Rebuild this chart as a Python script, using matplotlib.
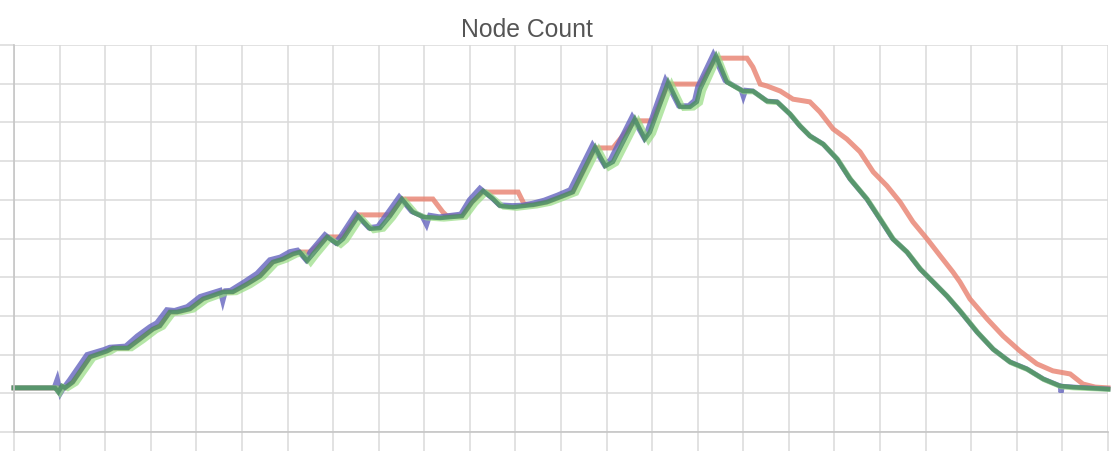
import matplotlib
matplotlib.use("Agg")
import matplotlib.pyplot as plt

title = "Node Count"

# x in grid units (24 intervals), y in grid units of 10 (0..100)
green_x = [0, 0.90, 0.97, 1.05, 1.12, 1.29, 1.67, 2.04, 2.17, 2.50, 2.76, 3.05, 3.20, 3.42, 3.58,
           3.86, 4.15, 4.59, 4.80, 5.11, 5.40, 5.68, 5.90, 6.12, 6.27, 6.43, 6.56, 6.87, 7.09, 7.22,
           7.55, 7.81, 8.03, 8.25, 8.51, 8.75, 8.97, 9.35, 9.83, 10.05, 10.29, 10.51, 10.66, 10.95, 11.17,
           11.39, 11.69, 11.98, 12.26, 12.75, 12.97, 13.14, 13.62, 13.84, 13.95, 14.35, 14.61, 14.83, 14.98, 15.05,
           15.40, 15.64, 15.99, 16.21, 16.52, 16.74, 17.02, 17.24, 17.46, 17.75, 18.06, 18.34, 18.71, 19.00, 19.28,
           19.59, 19.88, 20.16, 20.47, 20.75, 21.13, 21.48, 21.85, 22.22, 22.58, 22.95, 23.23, 24.0]
green_y = [11.4, 11.4, 10.3, 11.9, 11.4, 12.9, 19.4, 20.9, 21.7, 21.7, 24.0, 26.6, 27.4, 31.0, 31.0,
           31.8, 34.4, 36.2, 36.2, 38.2, 40.3, 43.9, 44.7, 46.0, 46.5, 44.2, 46.0, 50.4, 48.6, 49.9,
           55.8, 52.5, 52.7, 55.8, 60.2, 56.8, 55.6, 55.3, 55.8, 59.4, 62.3, 60.2, 58.4, 58.1, 58.4,
           58.7, 59.4, 60.7, 62.0, 73.6, 68.7, 69.8, 80.9, 75.7, 77.5, 90.4, 84.0, 84.0, 85.3, 88.6,
           97.2, 90.4, 88.1, 88.1, 85.5, 85.3, 82.2, 79.1, 76.5, 74.4, 70.5, 65.4, 60.2, 55.0, 49.9,
           46.5, 42.1, 38.8, 35.1, 31.3, 25.8, 21.4, 18.1, 16.3, 13.7, 11.9, 11.6, 11.1]

red_x = [0, 0.90, 1.12, 1.29, 1.67, 2.04, 2.17, 2.50, 2.76, 3.05, 3.20, 3.42, 3.58, 3.86, 4.15,
         4.59, 4.80, 5.11, 5.40, 5.68, 5.90, 6.12, 6.27, 6.49, 6.71, 6.87, 7.20, 7.55, 8.25, 8.51,
         9.19, 9.41, 9.50, 9.83, 10.05, 10.29, 11.06, 11.19, 11.39, 11.69, 11.98, 12.26, 12.75, 13.14, 13.62,
         14.00, 14.35, 15.05, 15.40, 16.08, 16.21, 16.37, 16.52, 16.81, 17.09, 17.46, 17.68, 17.97, 18.27, 18.56,
         18.85, 19.15, 19.44, 19.72, 20.03, 20.32, 20.60, 20.75, 20.97, 21.35, 21.70, 22.07, 22.44, 22.79, 23.17,
         23.45, 23.72, 24.0]
red_y = [11.4, 11.4, 11.4, 12.9, 19.4, 20.9, 21.7, 21.7, 24.0, 26.6, 27.4, 31.0, 31.0, 31.8, 34.4,
         36.2, 36.2, 38.2, 40.3, 43.9, 44.7, 46.0, 46.5, 46.5, 48.6, 50.4, 50.4, 56.1, 56.1, 60.2,
         60.2, 56.8, 55.8, 55.8, 59.4, 62.0, 62.0, 58.9, 58.7, 59.4, 60.7, 62.0, 73.4, 73.4, 80.4,
         80.4, 89.9, 89.9, 96.6, 96.6, 94.3, 89.9, 89.4, 88.1, 86.0, 85.3, 82.7, 78.3, 75.7, 72.4,
         67.2, 63.6, 59.4, 54.3, 49.9, 45.5, 41.3, 38.8, 34.4, 29.2, 24.8, 20.9, 17.6, 15.8, 15.0,
         12.4, 11.6, 11.4]

purple_x = [0, 0.88, 0.95, 1.02, 1.10, 1.22, 1.60, 1.97, 2.10, 2.45, 2.70, 2.98, 3.13, 3.35, 3.52,
            3.80, 4.08, 4.52, 4.58, 4.64, 4.75, 5.05, 5.33, 5.61, 5.84, 6.05, 6.22, 6.40, 6.50, 6.82,
            7.05, 7.16, 7.49, 7.78, 7.98, 8.19, 8.45, 8.72, 8.95, 9.05, 9.12, 9.33, 9.80, 9.99, 10.22,
            10.48, 10.64, 10.93, 11.15, 11.37, 11.63, 11.92, 12.20, 12.69, 12.95, 13.08, 13.56, 13.82, 13.90, 14.29,
            14.58, 14.80, 14.93, 15.00, 15.34, 15.60, 15.95, 16.0, 16.05, 16.21, 16.52, 16.74, 17.02, 17.24, 17.46,
            17.75, 18.06, 18.34, 18.71, 19.00, 19.28, 19.59, 19.88, 20.16, 20.47, 20.75, 21.13, 21.48, 21.85, 22.22,
            22.58, 22.95, 22.97, 23.0, 23.23, 24.0]
purple_y = [11.4, 11.4, 13.7, 10.0, 11.6, 13.5, 20.0, 21.3, 21.9, 22.2, 24.8, 27.2, 28.2, 31.6, 31.4,
            32.4, 35.0, 36.6, 33.8, 36.5, 36.6, 38.8, 41.0, 44.5, 45.2, 46.6, 47.0, 44.5, 46.6, 51.0,
            48.9, 50.5, 56.4, 52.8, 53.1, 56.5, 60.8, 57.0, 55.8, 53.5, 56.0, 55.6, 56.3, 60.0, 63.0,
            60.5, 58.7, 58.5, 58.6, 59.1, 59.9, 61.2, 62.6, 74.2, 69.0, 70.3, 81.5, 76.0, 78.0, 91.0,
            84.3, 84.3, 85.7, 89.2, 97.6, 90.8, 88.4, 86.6, 88.3, 88.1, 85.5, 85.3, 82.2, 79.1, 76.5,
            74.4, 70.5, 65.4, 60.2, 55.0, 49.9, 46.5, 42.1, 38.8, 35.1, 31.3, 25.8, 21.4, 18.1, 16.3,
            13.7, 11.9, 10.2, 11.8, 11.6, 11.1]

light_x = [0, 0.94, 1.01, 1.09, 1.18, 1.37, 1.75, 2.12, 2.25, 2.58, 2.84, 3.13, 3.28, 3.50, 3.66,
           3.94, 4.23, 4.67, 4.88, 5.19, 5.48, 5.76, 5.98, 6.20, 6.35, 6.51, 6.64, 6.95, 7.17, 7.30,
           7.63, 7.89, 8.11, 8.33, 8.59, 8.83, 9.05, 9.43, 9.91, 10.13, 10.37, 10.59, 10.74, 11.03, 11.25,
           11.47, 11.77, 12.06, 12.34, 12.83, 13.05, 13.22, 13.70, 13.92, 14.03, 14.43, 14.69, 14.91, 15.06, 15.13,
           15.46, 15.68, 16.01, 16.23, 16.54, 16.76, 17.04, 17.26, 17.48, 17.77, 18.08, 18.36, 18.73, 19.02, 19.30,
           19.61, 19.90, 20.18, 20.49, 20.77, 21.15, 21.50, 21.87, 22.24, 22.60, 22.97, 23.25, 24.0]
light_y = [11.4, 11.4, 10.0, 11.7, 11.2, 12.6, 19.0, 20.6, 21.5, 21.5, 23.6, 26.2, 27.1, 30.6, 30.8,
           31.5, 34.0, 35.9, 36.0, 37.8, 40.0, 43.5, 44.4, 45.7, 46.2, 43.6, 45.6, 50.0, 48.2, 49.5,
           55.4, 52.0, 52.4, 55.4, 59.8, 56.5, 55.3, 55.0, 55.5, 59.0, 61.9, 59.8, 58.1, 57.8, 58.1,
           58.4, 59.1, 60.4, 61.7, 73.2, 68.2, 69.4, 80.5, 75.2, 77.1, 90.0, 83.6, 83.7, 85.0, 88.2,
           96.8, 90.2, 87.9, 87.9, 85.3, 85.1, 82.0, 78.9, 76.3, 74.2, 70.3, 65.2, 60.0, 54.8, 49.7,
           46.3, 41.9, 38.6, 34.9, 31.1, 25.6, 21.2, 17.9, 16.1, 13.5, 11.7, 11.4, 11.0]

x_ticks = list(range(0, 25))
y_ticks = list(range(0, 101, 10))

W, H = 1120, 452
fig = plt.figure(figsize=(W / 100, H / 100), dpi=100)
left, right, top, bottom = 14, 1108, 46, 433
ax = fig.add_axes([left / W, 1 - bottom / H, (right - left) / W, (bottom - top) / H])

grid_c = "#dadada"
ax.set_xlim(0, 24)
ax.set_ylim(0, 100)
ax.set_xticks(x_ticks)
ax.set_yticks(y_ticks)
ax.set_xticklabels([])
ax.set_yticklabels([])
ax.grid(True, color=grid_c, linewidth=1.1)
ax.set_axisbelow(True)
ax.tick_params(axis="both", length=16, width=1.1, color=grid_c)
for s in ["top", "right"]:
    ax.spines[s].set_visible(False)
for s in ["left", "bottom"]:
    ax.spines[s].set_color("#c6c6c6")
    ax.spines[s].set_linewidth(1.2)

lw = 3.6
ax.plot(red_x, red_y, color="#e8806e", alpha=0.8, linewidth=lw, solid_joinstyle="miter", clip_on=False)
ax.plot(purple_x, purple_y, color="#6464be", alpha=0.8, linewidth=lw, solid_joinstyle="miter", clip_on=False)
ax.plot(light_x, light_y, color="#96dc82", alpha=0.7, linewidth=lw, solid_joinstyle="miter", clip_on=False)
ax.plot(green_x, green_y, color="#4f8f66", alpha=0.85, linewidth=3.2, solid_joinstyle="miter", clip_on=False)

fig.text(527 / W, 1 - 30 / H, title, ha="center", va="center", fontsize=17.8,
         color="#555555", family=["Liberation Sans", "DejaVu Sans"])

fig.savefig("out.png", dpi=100)
